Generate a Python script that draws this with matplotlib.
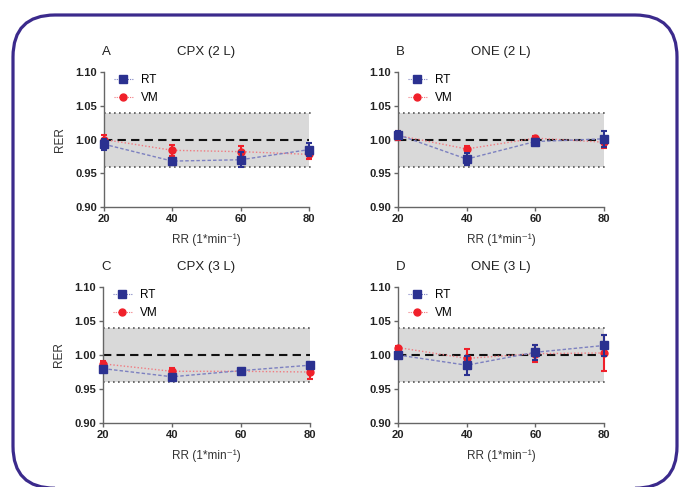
import matplotlib
matplotlib.use("Agg")
import matplotlib.pyplot as plt
from matplotlib.patches import FancyBboxPatch

plt.rcParams["font.family"] = ["Liberation Sans", "DejaVu Sans"]

# respiratory rate steps
rr = [20, 40, 60, 80]

# panel letters and titles
letters = ["A", "B", "C", "D"]
titles = ["CPX (2 L)", "ONE (2 L)", "CPX (3 L)", "ONE (3 L)"]

# RER means and error (RT = reference, VM = validation)
rt_a = [0.993, 0.968, 0.970, 0.985]
rt_a_err = [0.008, 0.005, 0.011, 0.010]
vm_a = [1.000, 0.984, 0.982, 0.978]
vm_a_err = [0.007, 0.008, 0.009, 0.007]

rt_b = [1.007, 0.971, 0.997, 1.001]
rt_b_err = [0.005, 0.009, 0.004, 0.012]
vm_b = [1.006, 0.986, 1.002, 0.996]
vm_b_err = [0.007, 0.004, 0.003, 0.008]

rt_c = [0.980, 0.968, 0.977, 0.985]
rt_c_err = [0.003, 0.003, 0.002, 0.003]
vm_c = [0.987, 0.976, 0.976, 0.975]
vm_c_err = [0.004, 0.005, 0.002, 0.010]

rt_d = [1.000, 0.985, 1.004, 1.014]
rt_d_err = [0.003, 0.014, 0.011, 0.016]
vm_d = [1.011, 0.995, 1.002, 1.003]
vm_d_err = [0.002, 0.014, 0.012, 0.027]

rt_all = [rt_a, rt_b, rt_c, rt_d]
rt_err_all = [rt_a_err, rt_b_err, rt_c_err, rt_d_err]
vm_all = [vm_a, vm_b, vm_c, vm_d]
vm_err_all = [vm_a_err, vm_b_err, vm_c_err, vm_d_err]

yticks = [0.90, 0.95, 1.00, 1.05, 1.10]

W, H = 683, 487
fig = plt.figure(figsize=(W / 100, H / 100), dpi=100)

# rounded frame round the figure (in inches)
frame = FancyBboxPatch((0.13, -0.012), 6.64, 4.732,
                       boxstyle="round,pad=0,rounding_size=0.42",
                       transform=fig.dpi_scale_trans, fill=False,
                       edgecolor="#3b2a8c", linewidth=2.3)
fig.patches.append(frame)

# axes boxes in pixels: left, top, right, bottom
boxes = [(104, 72, 309, 207), (398, 72, 604, 207),
         (103, 287, 310, 423), (398, 287, 604, 423)]

rt_col = "#2b3190"
vm_col = "#f0202a"
spine_col = "#666666"

for i, (l, t, r, b) in enumerate(boxes):
    ax = fig.add_axes([l / W, 1 - b / H, (r - l) / W, (b - t) / H])
    ax.set_xlim(20, 80)
    ax.set_ylim(0.90, 1.10)

    # acceptance band and reference line
    ax.fill_between([20, 80], 0.96, 1.04, color="#d9d9d9", lw=0, zorder=0)
    ax.plot([20, 80.8], [1.04, 1.04], ls=(0, (1, 2)), color="#555555", lw=1.2, clip_on=False, zorder=1)
    ax.plot([20, 80.8], [0.96, 0.96], ls=(0, (1, 2)), color="#555555", lw=1.2, clip_on=False, zorder=1)
    ax.plot([20, 80], [1.00, 1.00], ls=(0, (4, 2.5)), color="#111111", lw=1.5, zorder=2)

    ax.errorbar(rr, vm_all[i], yerr=vm_err_all[i], color=vm_col, ecolor=vm_col,
                marker="o", ms=5, lw=0, elinewidth=1.5, capsize=2.5, capthick=1.5,
                clip_on=False, zorder=3)
    ax.plot(rr, vm_all[i], ls=(0, (1, 1.5)), color="#f07a80", lw=1, zorder=3)
    ax.errorbar(rr, rt_all[i], yerr=rt_err_all[i], color=rt_col, ecolor=rt_col,
                marker="s", ms=5.5, lw=0, elinewidth=1.5, capsize=2.5, capthick=1.5,
                clip_on=False, zorder=4)
    ax.plot(rr, rt_all[i], ls=(0, (2.5, 1.5)), color="#7c80c0", lw=1, zorder=4)

    # legend handles
    h_rt, = ax.plot([], [], marker="s", ms=5.5, color="#7c80c0", ls=(0, (1, 1)),
                    lw=0.8, markeredgecolor=rt_col, markerfacecolor=rt_col)
    h_vm, = ax.plot([], [], marker="o", ms=5, color="#f07a80", ls=(0, (1, 1)),
                    lw=0.8, markeredgecolor=vm_col, markerfacecolor=vm_col)
    ax.legend([h_rt, h_vm], ["RT", "VM"], loc="upper left", frameon=False,
              fontsize=8.5, handlelength=1.6, handletextpad=0.7,
              borderaxespad=0.1, labelspacing=0.55, bbox_to_anchor=(0.02, 1.03))

    ax.set_xticks(rr)
    ax.set_yticks(yticks)
    ax.set_yticklabels([f"{v:.2f}" for v in yticks])
    for s in ["top", "right"]:
        ax.spines[s].set_visible(False)
    for s in ["left", "bottom"]:
        ax.spines[s].set_color(spine_col)
        ax.spines[s].set_linewidth(1.0)
    ax.tick_params(colors=spine_col, length=3, width=1.0, labelsize=8,
                   labelcolor="#222222", pad=2)
    for lab in ax.get_xticklabels() + ax.get_yticklabels():
        lab.set_fontweight("bold")

    ax.set_xlabel("RR (1*min⁻¹)", fontsize=8.5, color="#333333", labelpad=7)
    if i % 2 == 0:
        ax.set_ylabel("RER", fontsize=8.5, color="#333333", labelpad=7)
    ax.set_title(titles[i], fontsize=9.5, color="#222222", pad=12)
    ax.text(-0.01, 1.105, letters[i], transform=ax.transAxes, fontsize=9.5,
            color="#222222", ha="left", va="bottom")

fig.savefig("out.png", dpi=100)
